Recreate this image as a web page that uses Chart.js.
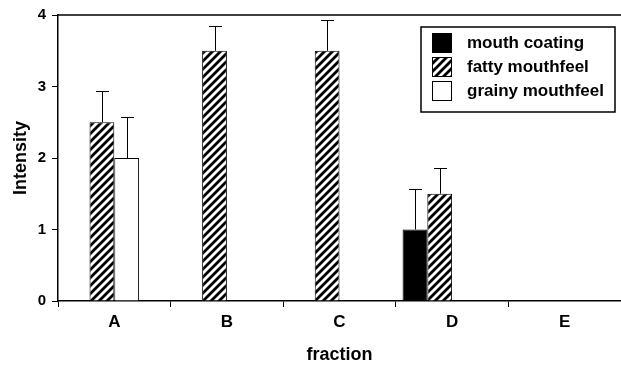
<!DOCTYPE html>
<html>
<head>
<meta charset="utf-8">
<script src="https://cdn.jsdelivr.net/npm/chart.js@4.4.1/dist/chart.umd.min.js"></script>
<style>
  html, body { margin: 0; padding: 0; background: #fff; }
  #wrap { width: 621px; height: 366px; }
</style>
</head>
<body>
<div id="wrap"><canvas id="myChart"></canvas></div>
<script>
// values
var categories = ['A', 'B', 'C', 'D', 'E'];
var mouthCoating = [null, null, null, 1.0, null];
var mouthCoatingErr = [null, null, null, 0.56, null];
var fattyMouthfeel = [2.5, 3.5, 3.5, 1.5, null];
var fattyMouthfeelErr = [0.44, 0.34, 0.43, 0.36, null];
var grainyMouthfeel = [2.0, null, null, null, null];
var grainyMouthfeelErr = [0.58, null, null, null, null];
var yTicks = [0, 1, 2, 3, 4];

var FONT = "'Liberation Sans', Arial, sans-serif";

function makeHatch() {
    var c = document.createElement('canvas');
    c.width = 8; c.height = 8;
    var g = c.getContext('2d');
    g.fillStyle = '#fff';
    g.fillRect(0, 0, 8, 8);
    g.strokeStyle = '#000';
    g.lineWidth = 2.8;
    g.beginPath();
    g.moveTo(-2, 10); g.lineTo(10, -2);
    g.moveTo(-6, 6); g.lineTo(6, -6);
    g.moveTo(2, 14); g.lineTo(14, 2);
    g.stroke();
    return g.createPattern(c, 'repeat');
}
var hatch = makeHatch();

// error bars (upper only) and top frame line
var errorBars = {
    id: 'errorBars',
    afterDatasetsDraw: function(chart) {
        var ctx = chart.ctx;
        var y = chart.scales.y;
        ctx.save();
        ctx.strokeStyle = '#000';
        ctx.lineWidth = 1;
        chart.data.datasets.forEach(function(ds, i) {
            if (!ds.errors) return;
            var meta = chart.getDatasetMeta(i);
            meta.data.forEach(function(bar, j) {
                var v = ds.data[j], e = ds.errors[j];
                if (v == null || e == null) return;
                var top = Math.round(y.getPixelForValue(v + e)) + 0.5;
                var x = Math.round(bar.x) + 0.5;
                ctx.beginPath();
                ctx.moveTo(x, bar.y);
                ctx.lineTo(x, top);
                ctx.moveTo(x - 6.5, top);
                ctx.lineTo(x + 6.5, top);
                ctx.stroke();
            });
        });
        var a = chart.chartArea;
        ctx.lineWidth = 1.5;
        ctx.beginPath();
        ctx.moveTo(a.left, a.top);
        ctx.lineTo(chart.width, a.top);
        ctx.stroke();
        ctx.restore();
    }
};

// boxed legend inside plot, upper right
var boxLegend = {
    id: 'boxLegend',
    afterDraw: function(chart) {
        var ctx = chart.ctx;
        var items = chart.data.datasets.filter(function(d) { return d.label; });
        var bx = 421, by = 27, bw = 194, bh = 85;
        ctx.save();
        ctx.fillStyle = '#fff';
        ctx.fillRect(bx, by, bw, bh);
        ctx.strokeStyle = '#000';
        ctx.lineWidth = 1.5;
        ctx.strokeRect(bx, by, bw, bh);
        ctx.font = 'bold 17px ' + FONT;
        ctx.textBaseline = 'middle';
        items.forEach(function(d, i) {
            var sy = 33 + i * 24;
            ctx.fillStyle = d.backgroundColor;
            ctx.fillRect(432, sy, 20, 20);
            ctx.lineWidth = 1;
            ctx.strokeRect(432.5, sy + 0.5, 19, 19);
            ctx.fillStyle = '#000';
            ctx.fillText(d.label, 467, sy + 10);
        });
        ctx.restore();
    }
};

var ctx = document.getElementById('myChart').getContext('2d');
var myChart = new Chart(ctx, {
    type: 'bar',
    data: {
        labels: categories,
        datasets: [{
            label: 'mouth coating',
            data: mouthCoating,
            errors: mouthCoatingErr,
            backgroundColor: '#000',
            borderColor: '#000',
            borderWidth: 1
        }, {
            label: 'fatty mouthfeel',
            data: fattyMouthfeel,
            errors: fattyMouthfeelErr,
            backgroundColor: hatch,
            borderColor: '#000',
            borderWidth: 1
        }, {
            label: 'grainy mouthfeel',
            data: grainyMouthfeel,
            errors: grainyMouthfeelErr,
            backgroundColor: '#fff',
            borderColor: '#000',
            borderWidth: 1
        }, {
            // empty slot so the groups sit left of centre like the original
            label: '',
            data: [null, null, null, null, null],
            backgroundColor: 'rgba(0,0,0,0)'
        }]
    },
    options: {
        responsive: true,
        maintainAspectRatio: false,
        animation: false,
        layout: { padding: { top: 15, right: 0, left: 0, bottom: 0 } },
        plugins: { legend: { display: false }, tooltip: { enabled: false } },
        datasets: { bar: { barPercentage: 1.0, categoryPercentage: 0.88 } },
        scales: {
            x: {
                grid: { display: true, drawOnChartArea: false, offset: true, tickLength: 6, color: '#000' },
                border: { display: true, color: '#000', width: 1.5 },
                ticks: { color: '#000', padding: 5, font: { family: FONT, size: 17, weight: 'bold' } },
                title: { display: true, text: 'fraction', color: '#000', padding: { top: 4, bottom: 0 },
                         font: { family: FONT, size: 18, weight: 'bold' } },
                afterFit: function(s) { s.height = 65; }
            },
            y: {
                min: 0,
                max: 4,
                afterBuildTicks: function(s) { s.ticks = yTicks.map(function(v) { return { value: v }; }); },
                grid: { display: true, drawOnChartArea: false, tickLength: 6, color: '#000' },
                border: { display: true, color: '#000', width: 1.5 },
                ticks: { color: '#000', padding: 6, font: { family: FONT, size: 15, weight: 'bold' } },
                title: { display: true, text: 'Intensity', color: '#000', padding: { top: 10, bottom: 4 },
                         font: { family: FONT, size: 18, weight: 'bold' } },
                afterFit: function(s) { s.width = 58; }
            }
        }
    },
    plugins: [errorBars, boxLegend]
});
</script>
</body>
</html>
